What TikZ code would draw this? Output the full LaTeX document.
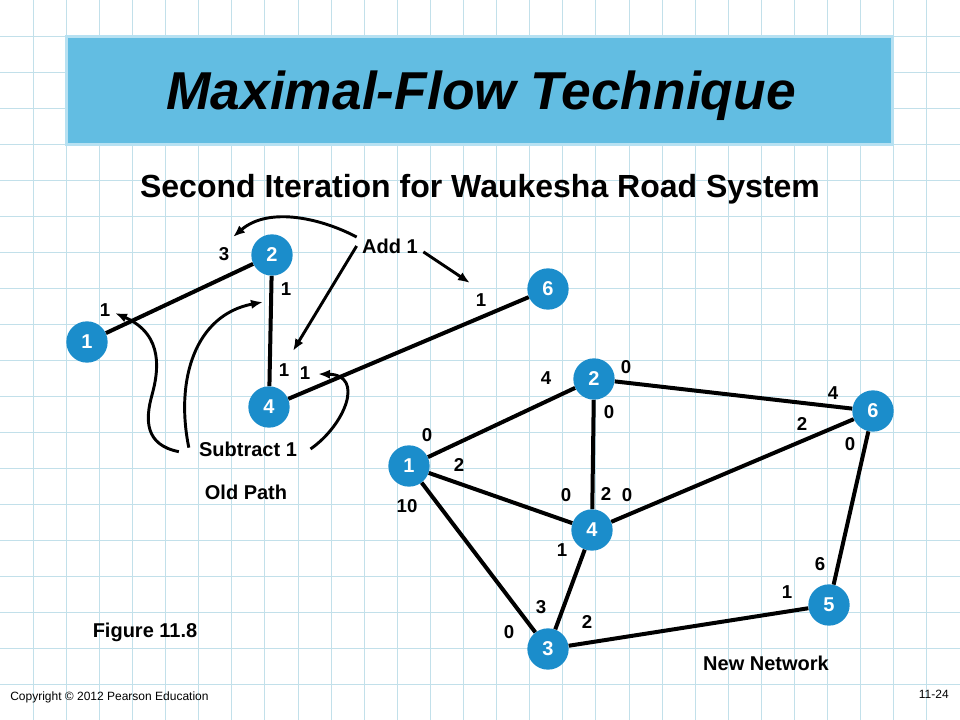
\documentclass[tikz,border=0pt]{standalone}
\usepackage{fontspec}
\setmainfont{Liberation Sans}
\usetikzlibrary{arrows.meta}
\definecolor{gridc}{HTML}{C2E0EA}
\definecolor{bannerc}{HTML}{62BDE2}
\definecolor{bannerb}{HTML}{B7E1F2}
\definecolor{nodec}{HTML}{1B8DCB}
\tikzset{
  gridline/.style={gridc, line width=0.65pt},
  banner/.style={draw=bannerb, fill=bannerc, line width=2.4pt, minimum width=619pt, minimum height=81pt, inner sep=0pt},
  vtx/.style={circle, fill=nodec, minimum size=31pt, inner sep=0pt, text=white, font=\bfseries\fontsize{15}{15}\selectfont},
  lbl/.style={inner sep=0pt, font=\bfseries\fontsize{14}{14}\selectfont},
  txt/.style={inner sep=4pt, font=\bfseries\fontsize{15}{16}\selectfont},
  edg/.style={line width=3pt},
  arr/.style={-{Latex[length=9pt,width=7pt]}, line width=2.2pt},
}
\begin{document}
\begin{tikzpicture}[x=0.75pt, y=-0.75pt]
  \useasboundingbox (0,0) rectangle (960,720);
  \fill[white] (0,0) rectangle (960,720);
  % squared paper
  \foreach \i in {1,...,28} \draw[gridline] ({\i*33.1034},0) -- ({\i*33.1034},720);
  \foreach \j in {1,...,19} \draw[gridline] (0,{\j*36}) -- (960,{\j*36});
  % heading
  \node[banner] (banner) at (479.5,90.5) {};
  \node[anchor=base, font=\bfseries\itshape\fontsize{40}{40}\selectfont] (title) at (481,110) {Maximal-Flow Technique};
  \node[anchor=base, font=\bfseries\fontsize{24}{24}\selectfont] (subtitle) at (480,198) {Second Iteration for Waukesha Road System};
  % old path
  \node[vtx] (o1) at (87,342) {1};
  \node[vtx] (o2) at (272,255) {2};
  \node[vtx] (o4) at (269,407) {4};
  \node[vtx] (o6) at (548,289) {6};
  \draw[edg] (o1) -- (o2); \draw[edg] (o2) -- (o4); \draw[edg] (o4) -- (o6);
  \foreach \x/\y/\t [count=\k] in {224/254/3, 286/289/1, 105/310/1, 284/370/1, 305/373/1, 481/300/1}
    \node[lbl] (ol\k) at (\x,\y) {\t};
  \node[txt] (add) at (390,246) {Add 1};
  \node[txt] (sub) at (248,449) {Subtract 1};
  \node[txt] (old) at (246,492) {Old Path};
  \coordinate (tipA) at (233,237);
  \coordinate (tipB) at (293,351);
  \coordinate (tipC) at (470,283);
  \coordinate (tipD) at (115,313);
  \coordinate (tipE) at (263,302);
  \coordinate (tipF) at (318,374);
  \draw[arr] (add.165) .. controls (325,220) and (270,205) .. (tipA);
  \draw[arr] (add.west) -- (tipB);
  \draw[arr] (add.-10) -- (tipC);
  \draw[arr] ([xshift=-11pt,yshift=-2pt]sub.west) .. controls (145,445) and (145,420) .. (152,395)
    .. controls (158,373) and (165,335) .. (tipD);
  \draw[arr] ([xshift=-3.5pt,yshift=1pt]sub.west) .. controls (175,380) and (195,315) .. (tipE);
  \draw[arr] ([xshift=6pt]sub.east) .. controls (345,425) and (365,375) .. (tipF);
  % new network
  \node[vtx] (n1) at (409,466) {1};
  \node[vtx] (n2) at (594,379) {2};
  \node[vtx] (n3) at (548,649) {3};
  \node[vtx] (n4) at (592,530) {4};
  \node[vtx] (n5) at (829,605) {5};
  \node[vtx] (n6) at (873,411) {6};
  \draw[edg] (n1) -- (n2); \draw[edg] (n1) -- (n4); \draw[edg] (n1) -- (n3);
  \draw[edg] (n2) -- (n4); \draw[edg] (n2) -- (n6); \draw[edg] (n4) -- (n6);
  \draw[edg] (n4) -- (n3); \draw[edg] (n3) -- (n5); \draw[edg] (n5) -- (n6);
  \foreach \x/\y/\t [count=\k] in {546/378/4, 626/367/0, 609/412/0, 427/435/0, 459/465/2, 407/506/10,
      566/495/0, 606/494/2, 627/495/0, 562/550/1, 541/607/3, 509/632/0, 587/622/2,
      833/393/4, 802/424/2, 850/444/0, 820/564/6, 787/592/1}
    \node[lbl] (nl\k) at (\x,\y) {\t};
  \node[txt] (newnet) at (766,663) {New Network};
  \node[txt, anchor=base] (fig) at (145,637) {Figure 11.8};
  % footer
  \node[anchor=base west, inner sep=0pt, font=\fontsize{9}{10}\selectfont] (copy) at (10,700) {Copyright \textcopyright{} 2012 Pearson Education};
  \node[anchor=base east, inner sep=0pt, font=\fontsize{9}{10}\selectfont] (page) at (949,698) {11-24};
\end{tikzpicture}
\end{document}
